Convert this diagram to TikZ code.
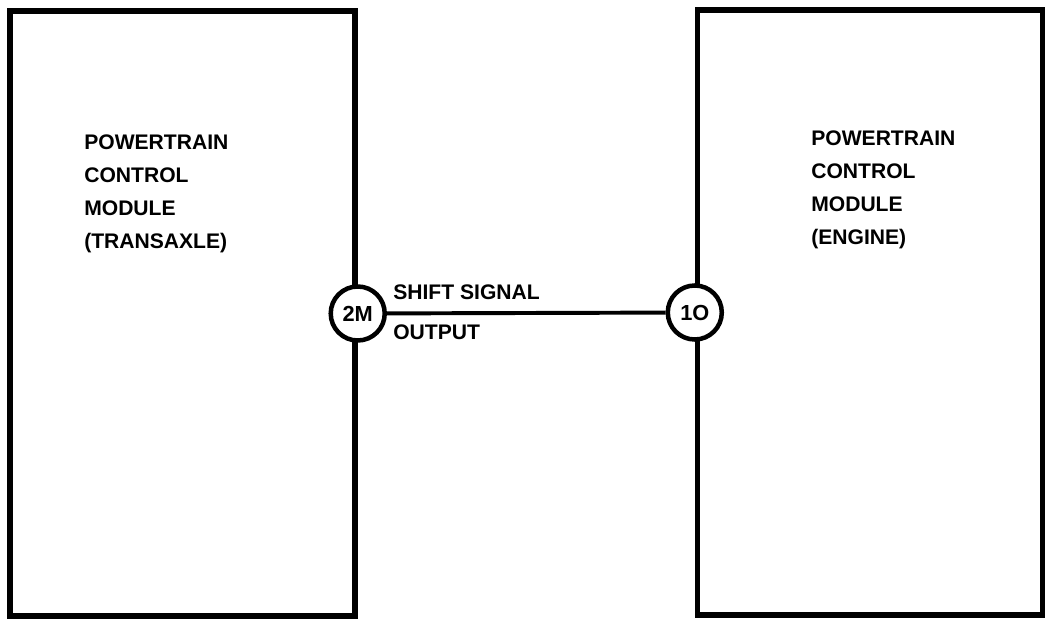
\documentclass[tikz,border=0pt]{standalone}
\usepackage{fontspec}
\setmainfont{Liberation Sans}
\usetikzlibrary{positioning,calc}

\begin{document}
\begin{tikzpicture}[
    x=0.025cm, y=-0.025cm,
    module/.style={draw, line width=3.8pt, minimum width=8.625cm, minimum height=15.125cm, inner sep=0pt},
    pin/.style={draw, circle, fill=white, line width=3.2pt, minimum size=1.35cm, inner sep=0pt, font=\bfseries\fontsize{15.5}{18}\selectfont},
    txt/.style={align=left, inner sep=0pt, font=\bfseries\fontsize{15}{23.6}\selectfont},
    lbl/.style={inner sep=0pt, font=\bfseries\fontsize{15}{18}\selectfont}
  ]
    \useasboundingbox (0,0) rectangle (1056,628);
    % the two modules
    \node[module] (tcm) at (182.5,313.5) {};
    \node[module] (ecm) at (870,312.5) {};
    \node[txt, anchor=north west] (tcmtxt) at (84,134) {POWERTRAIN\\CONTROL\\MODULE\\(TRANSAXLE)};
    \node[txt, anchor=north west] (ecmtxt) at (811,130) {POWERTRAIN\\CONTROL\\MODULE\\(ENGINE)};
    % pins and wire
    \node[pin] (p2m) at (tcm.east) {2M};
    \node[pin] (p1o) at (ecm.west) {1O};
    \draw[line width=2.8pt] (p2m) -- (p1o);
    \node[lbl, anchor=base west] (sig) at (393,300) {SHIFT SIGNAL};
    \node[lbl, anchor=base west] (out) at (393,340) {OUTPUT};
\end{tikzpicture}
\end{document}
